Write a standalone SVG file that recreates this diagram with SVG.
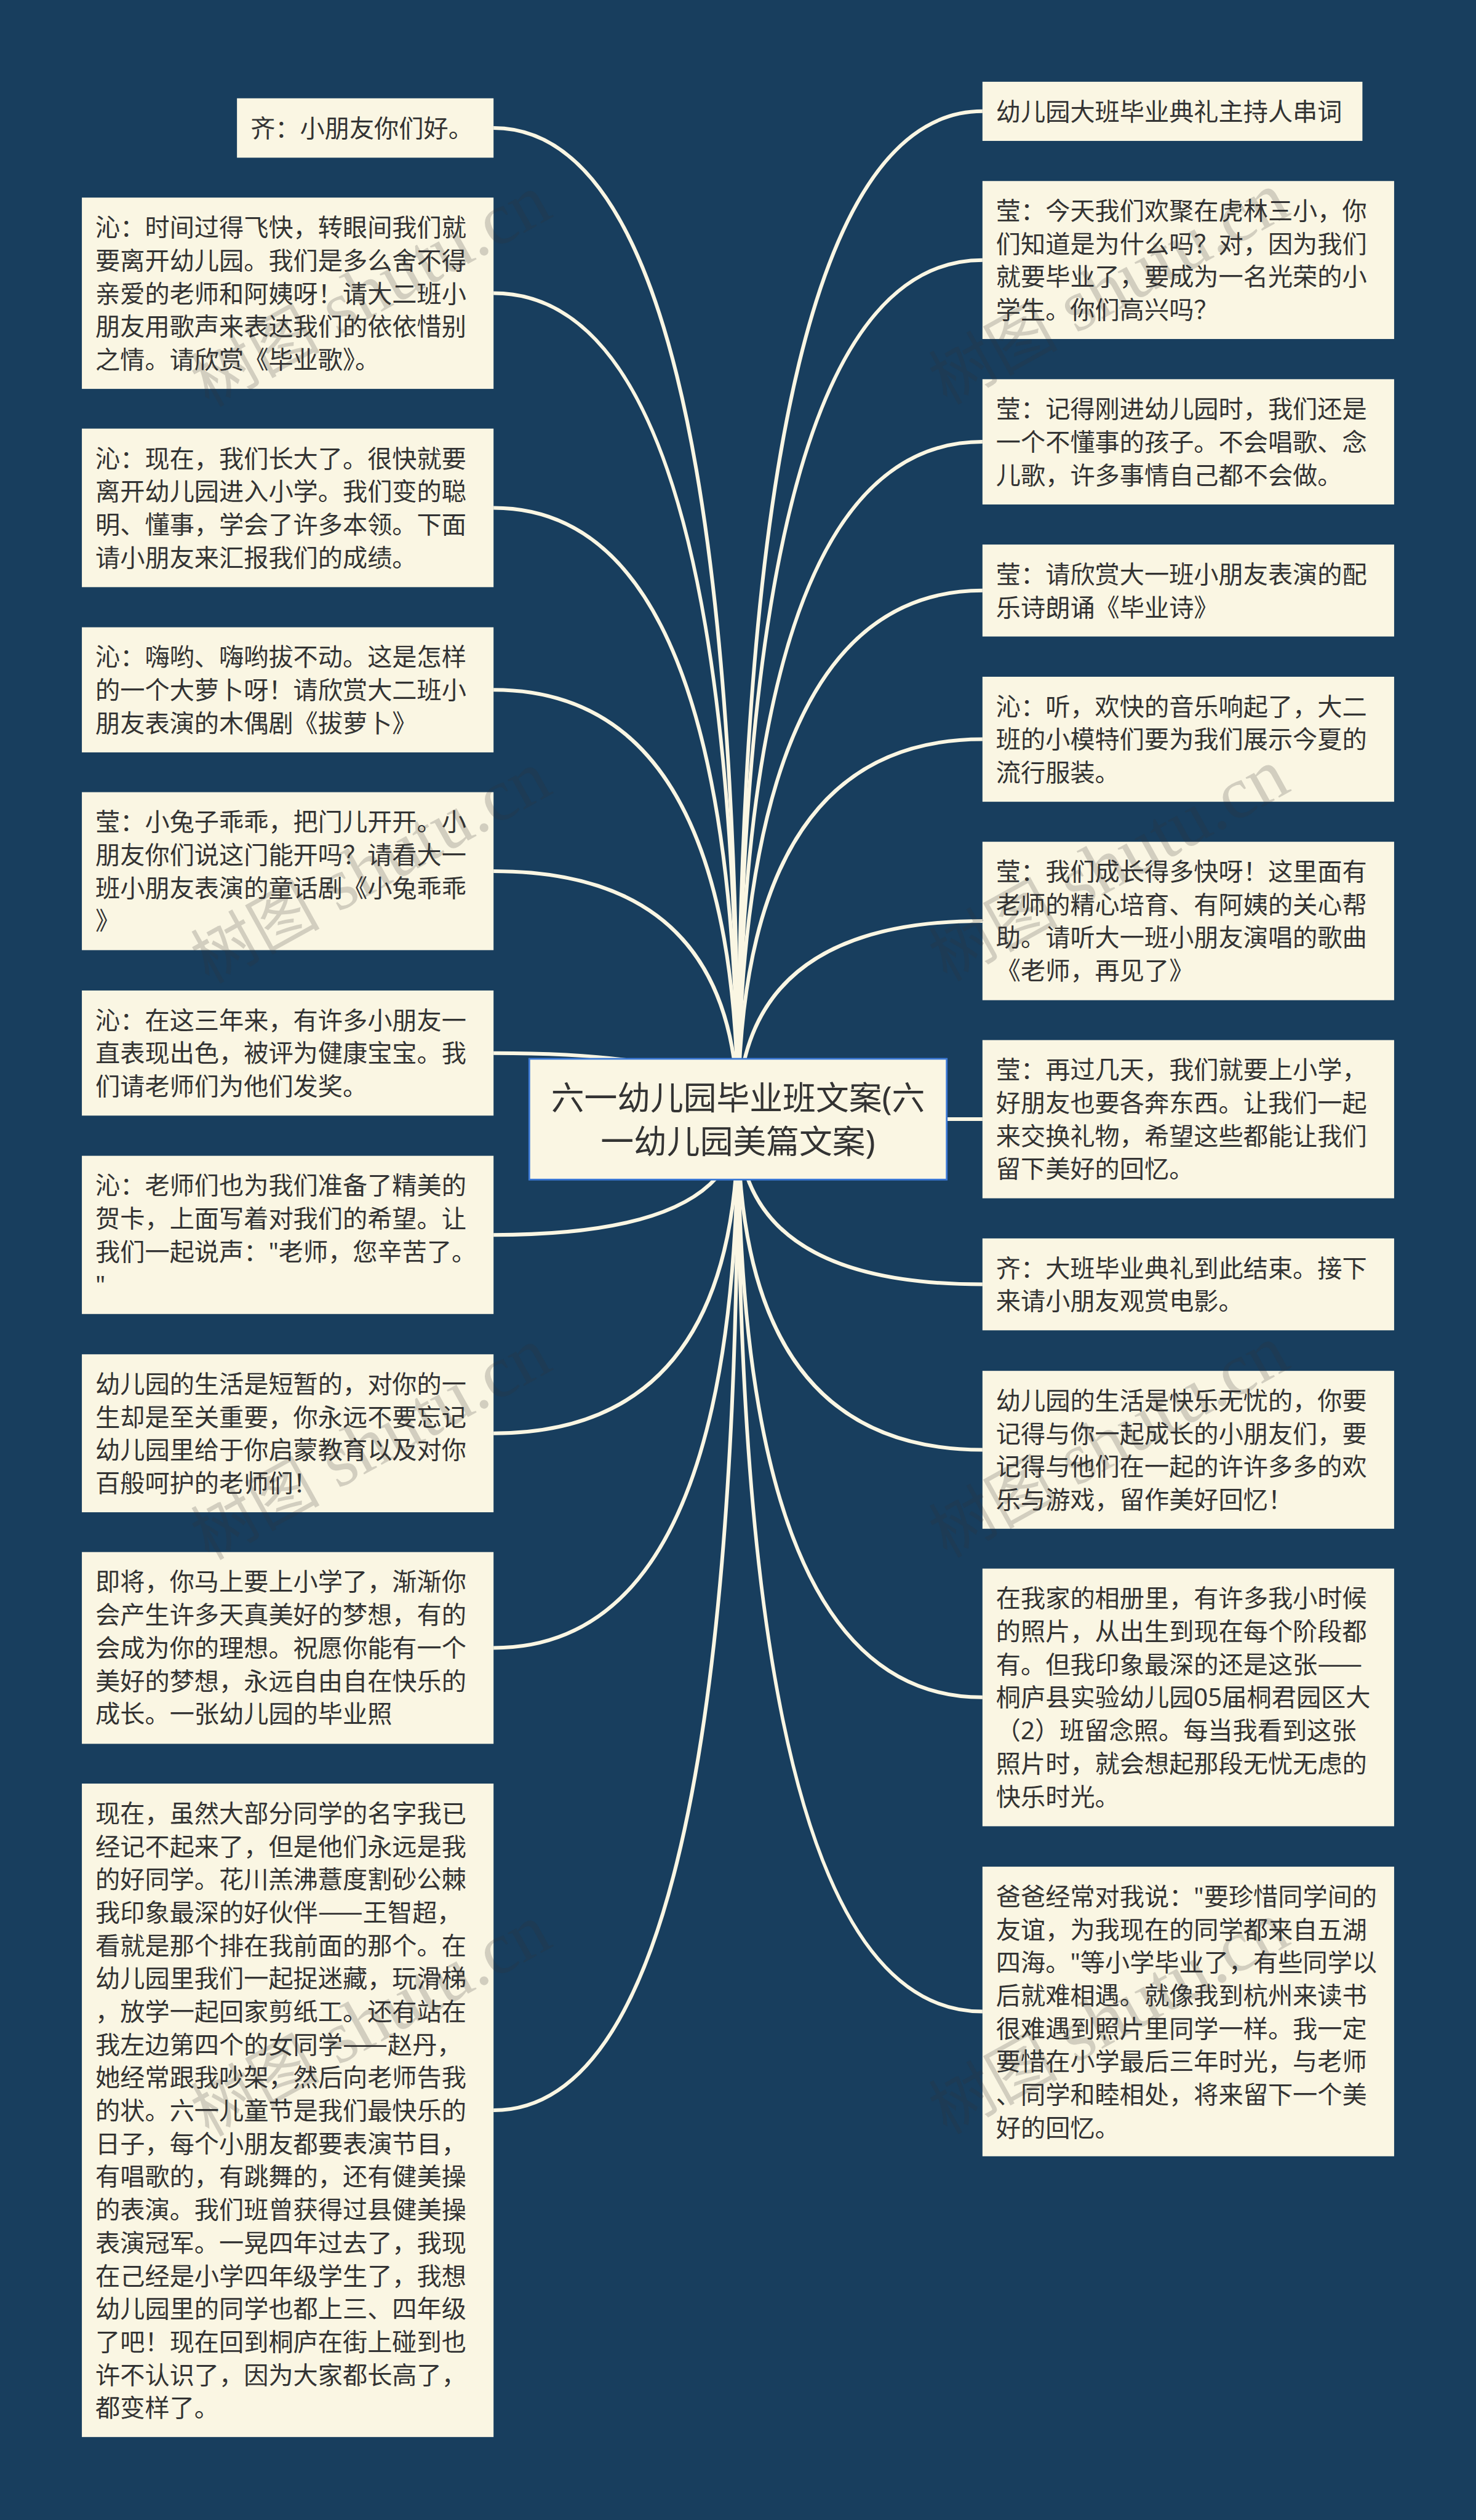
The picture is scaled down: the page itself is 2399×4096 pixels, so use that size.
<svg xmlns="http://www.w3.org/2000/svg" width="2399" height="4096" viewBox="0 0 2399 4096">
<style>
.b{fill:#faf6e3}
.t{font-family:"Noto Sans","Noto Sans CJK SC",sans-serif;font-size:42.9px;fill:#333}
.d{font-family:"Noto Sans CJK SC",sans-serif;font-size:46.5px}
.c{fill:none;stroke:#faf6e3;stroke-width:6.4}
.w{font-family:"Liberation Serif","Noto Sans CJK SC",serif;font-size:128px;fill:#333;fill-opacity:.2}
.w .z{font-family:"Noto Sans CJK SC",serif;font-size:112px}
</style>
<rect width="2399" height="4096" fill="#183e5e"/>
<g transform="scale(0.93711)">
<g id="connectors">
<path class="c" d="M1280 1941Q1280 222 856 222"/>
<path class="c" d="M1280 1941Q1280 508.6 856 508.6"/>
<path class="c" d="M1280 1941Q1280 881 856 881"/>
<path class="c" d="M1280 1941Q1280 1196.5 856 1196.5"/>
<path class="c" d="M1280 1941Q1280 1511 856 1511"/>
<path class="c" d="M1280 1941Q1280 1826.5 856 1826.5"/>
<path class="c" d="M1280 1941Q1280 2141.9 856 2141.9"/>
<path class="c" d="M1280 1941Q1280 2486 856 2486"/>
<path class="c" d="M1280 1941Q1280 2858.3 856 2858.3"/>
<path class="c" d="M1280 1941Q1280 3660.3 856 3660.3"/>
<path class="c" d="M1280 1941Q1280 193 1704 193"/>
<path class="c" d="M1280 1941Q1280 451 1704 451"/>
<path class="c" d="M1280 1941Q1280 766.3 1704 766.3"/>
<path class="c" d="M1280 1941Q1280 1024.2 1704 1024.2"/>
<path class="c" d="M1280 1941Q1280 1282.2 1704 1282.2"/>
<path class="c" d="M1280 1941Q1280 1597.4 1704 1597.4"/>
<path class="c" d="M1280 1941L1704 1941"/>
<path class="c" d="M1280 1941Q1280 2227.7 1704 2227.7"/>
<path class="c" d="M1280 1941Q1280 2514.6 1704 2514.6"/>
<path class="c" d="M1280 1941Q1280 2944 1704 2944"/>
<path class="c" d="M1280 1941Q1280 3489 1704 3489"/>
</g>
<g id="center"><rect x="918" y="1836.5" width="724" height="209.5" fill="#faf6e3" stroke="#3a78d6" stroke-width="3"/>
<text class="t" style="font-size:57.4px" text-anchor="middle"><tspan x="1280" y="1925">六一幼儿园毕业班文案(六</tspan><tspan x="1280" y="2001">一幼儿园美篇文案)</tspan></text></g>
<g id="L1"><rect class="b" x="411" y="170.5" width="445" height="103"/><text class="t" y="238"><tspan x="434.5">齐：小朋友你们好。</tspan></text></g>
<g id="L2"><rect class="b" x="142" y="342.7" width="714" height="331.8"/><text class="t" y="410"><tspan x="165.5">沁：时间过得飞快，转眼间我们就</tspan><tspan x="165.5" dy="57.3">要离开幼儿园。我们是多么舍不得</tspan><tspan x="165.5" dy="57.3">亲爱的老师和阿姨呀！请大二班小</tspan><tspan x="165.5" dy="57.3">朋友用歌声来表达我们的依依惜别</tspan><tspan x="165.5" dy="57.3">之情。请欣赏《毕业歌》。</tspan></text></g>
<g id="L3"><rect class="b" x="142" y="743.4" width="714" height="275"/><text class="t" y="810.6"><tspan x="165.5">沁：现在，我们长大了。很快就要</tspan><tspan x="165.5" dy="57.3">离开幼儿园进入小学。我们变的聪</tspan><tspan x="165.5" dy="57.3">明、懂事，学会了许多本领。下面</tspan><tspan x="165.5" dy="57.3">请小朋友来汇报我们的成绩。</tspan></text></g>
<g id="L4"><rect class="b" x="142" y="1088" width="714" height="217"/><text class="t" y="1155"><tspan x="165.5">沁：嗨哟、嗨哟拔不动。这是怎样</tspan><tspan x="165.5" dy="57.3">的一个大萝卜呀！请欣赏大二班小</tspan><tspan x="165.5" dy="57.3">朋友表演的木偶剧《拔萝卜》</tspan></text></g>
<g id="L5"><rect class="b" x="142" y="1374" width="714" height="274"/><text class="t" y="1441"><tspan x="165.5">莹：小兔子乖乖，把门儿开开。小</tspan><tspan x="165.5" dy="57.3">朋友你们说这门能开吗？请看大一</tspan><tspan x="165.5" dy="57.3">班小朋友表演的童话剧《小兔乖乖</tspan><tspan x="165.5" dy="57.3">》</tspan></text></g>
<g id="L6"><rect class="b" x="142" y="1718" width="714" height="217"/><text class="t" y="1785"><tspan x="165.5">沁：在这三年来，有许多小朋友一</tspan><tspan x="165.5" dy="57.3">直表现出色，被评为健康宝宝。我</tspan><tspan x="165.5" dy="57.3">们请老师们为他们发奖。</tspan></text></g>
<g id="L7"><rect class="b" x="142" y="2004.7" width="714" height="274.4"/><text class="t" y="2071.7"><tspan x="165.5">沁：老师们也为我们准备了精美的</tspan><tspan x="165.5" dy="57.3">贺卡，上面写着对我们的希望。让</tspan><tspan x="165.5" dy="57.3">我们一起说声："老师，您辛苦了。</tspan><tspan x="165.5" dy="57.3">"</tspan></text></g>
<g id="L8"><rect class="b" x="142" y="2349" width="714" height="274"/><text class="t" y="2416"><tspan x="165.5">幼儿园的生活是短暂的，对你的一</tspan><tspan x="165.5" dy="57.3">生却是至关重要，你永远不要忘记</tspan><tspan x="165.5" dy="57.3">幼儿园里给于你启蒙教育以及对你</tspan><tspan x="165.5" dy="57.3">百般呵护的老师们！</tspan></text></g>
<g id="L9"><rect class="b" x="142" y="2692" width="714" height="332.6"/><text class="t" y="2759"><tspan x="165.5">即将，你马上要上小学了，渐渐你</tspan><tspan x="165.5" dy="57.3">会产生许多天真美好的梦想，有的</tspan><tspan x="165.5" dy="57.3">会成为你的理想。祝愿你能有一个</tspan><tspan x="165.5" dy="57.3">美好的梦想，永远自由自在快乐的</tspan><tspan x="165.5" dy="57.3">成长。一张幼儿园的毕业照</tspan></text></g>
<g id="L10"><rect class="b" x="142" y="3093.6" width="714" height="1133.4"/><text class="t" y="3160.6"><tspan x="165.5">现在，虽然大部分同学的名字我已</tspan><tspan x="165.5" dy="57.3">经记不起来了，但是他们永远是我</tspan><tspan x="165.5" dy="57.3">的好同学。花川羔沸薏度割砂公棘</tspan><tspan x="165.5" dy="57.3">我印象最深的好伙伴<tspan class="d">——</tspan>王智超，</tspan><tspan x="165.5" dy="57.3">看就是那个排在我前面的那个。在</tspan><tspan x="165.5" dy="57.3">幼儿园里我们一起捉迷藏，玩滑梯</tspan><tspan x="165.5" dy="57.3">，放学一起回家剪纸工。还有站在</tspan><tspan x="165.5" dy="57.3">我左边第四个的女同学<tspan class="d">——</tspan>赵丹，</tspan><tspan x="165.5" dy="57.3">她经常跟我吵架，然后向老师告我</tspan><tspan x="165.5" dy="57.3">的状。六一儿童节是我们最快乐的</tspan><tspan x="165.5" dy="57.3">日子，每个小朋友都要表演节目，</tspan><tspan x="165.5" dy="57.3">有唱歌的，有跳舞的，还有健美操</tspan><tspan x="165.5" dy="57.3">的表演。我们班曾获得过县健美操</tspan><tspan x="165.5" dy="57.3">表演冠军。一晃四年过去了，我现</tspan><tspan x="165.5" dy="57.3">在己经是小学四年级学生了，我想</tspan><tspan x="165.5" dy="57.3">幼儿园里的同学也都上三、四年级</tspan><tspan x="165.5" dy="57.3">了吧！现在回到桐庐在街上碰到也</tspan><tspan x="165.5" dy="57.3">许不认识了，因为大家都长高了，</tspan><tspan x="165.5" dy="57.3">都变样了。</tspan></text></g>
<g id="R1"><rect class="b" x="1704" y="141.8" width="659" height="102.6"/><text class="t" y="209"><tspan x="1727.5">幼儿园大班毕业典礼主持人串词</tspan></text></g>
<g id="R2"><rect class="b" x="1704" y="314" width="714" height="274"/><text class="t" y="381"><tspan x="1727.5">莹：今天我们欢聚在虎林三小，你</tspan><tspan x="1727.5" dy="57.3">们知道是为什么吗？对，因为我们</tspan><tspan x="1727.5" dy="57.3">就要毕业了，要成为一名光荣的小</tspan><tspan x="1727.5" dy="57.3">学生。你们高兴吗？</tspan></text></g>
<g id="R3"><rect class="b" x="1704" y="657.7" width="714" height="217.3"/><text class="t" y="724.7"><tspan x="1727.5">莹：记得刚进幼儿园时，我们还是</tspan><tspan x="1727.5" dy="57.3">一个不懂事的孩子。不会唱歌、念</tspan><tspan x="1727.5" dy="57.3">儿歌，许多事情自己都不会做。</tspan></text></g>
<g id="R4"><rect class="b" x="1704" y="944.5" width="714" height="159.5"/><text class="t" y="1011.5"><tspan x="1727.5">莹：请欣赏大一班小朋友表演的配</tspan><tspan x="1727.5" dy="57.3">乐诗朗诵《毕业诗》</tspan></text></g>
<g id="R5"><rect class="b" x="1704" y="1173.8" width="714" height="216.8"/><text class="t" y="1240.8"><tspan x="1727.5">沁：听，欢快的音乐响起了，大二</tspan><tspan x="1727.5" dy="57.3">班的小模特们要为我们展示今夏的</tspan><tspan x="1727.5" dy="57.3">流行服装。</tspan></text></g>
<g id="R6"><rect class="b" x="1704" y="1460" width="714" height="274.8"/><text class="t" y="1527"><tspan x="1727.5">莹：我们成长得多快呀！这里面有</tspan><tspan x="1727.5" dy="57.3">老师的精心培育、有阿姨的关心帮</tspan><tspan x="1727.5" dy="57.3">助。请听大一班小朋友演唱的歌曲</tspan><tspan x="1727.5" dy="57.3">《老师，再见了》</tspan></text></g>
<g id="R7"><rect class="b" x="1704" y="1804" width="714" height="274.4"/><text class="t" y="1871"><tspan x="1727.5">莹：再过几天，我们就要上小学，</tspan><tspan x="1727.5" dy="57.3">好朋友也要各奔东西。让我们一起</tspan><tspan x="1727.5" dy="57.3">来交换礼物，希望这些都能让我们</tspan><tspan x="1727.5" dy="57.3">留下美好的回忆。</tspan></text></g>
<g id="R8"><rect class="b" x="1704" y="2148" width="714" height="159.4"/><text class="t" y="2215"><tspan x="1727.5">齐：大班毕业典礼到此结束。接下</tspan><tspan x="1727.5" dy="57.3">来请小朋友观赏电影。</tspan></text></g>
<g id="R9"><rect class="b" x="1704" y="2377.7" width="714" height="273.9"/><text class="t" y="2444.7"><tspan x="1727.5">幼儿园的生活是快乐无忧的，你要</tspan><tspan x="1727.5" dy="57.3">记得与你一起成长的小朋友们，要</tspan><tspan x="1727.5" dy="57.3">记得与他们在一起的许许多多的欢</tspan><tspan x="1727.5" dy="57.3">乐与游戏，留作美好回忆！</tspan></text></g>
<g id="R10"><rect class="b" x="1704" y="2720.7" width="714" height="446.9"/><text class="t" y="2787.7"><tspan x="1727.5">在我家的相册里，有许多我小时候</tspan><tspan x="1727.5" dy="57.3">的照片，从出生到现在每个阶段都</tspan><tspan x="1727.5" dy="57.3">有。但我印象最深的还是这张<tspan class="d">——</tspan></tspan><tspan x="1727.5" dy="57.3">桐庐县实验幼儿园05届桐君园区大</tspan><tspan x="1727.5" dy="57.3">（2）班留念照。每当我看到这张</tspan><tspan x="1727.5" dy="57.3">照片时，就会想起那段无忧无虑的</tspan><tspan x="1727.5" dy="57.3">快乐时光。</tspan></text></g>
<g id="R11"><rect class="b" x="1704" y="3237.7" width="714" height="502.3"/><text class="t" y="3304.7"><tspan x="1727.5">爸爸经常对我说："要珍惜同学间的</tspan><tspan x="1727.5" dy="57.3">友谊，为我现在的同学都来自五湖</tspan><tspan x="1727.5" dy="57.3">四海。"等小学毕业了，有些同学以</tspan><tspan x="1727.5" dy="57.3">后就难相遇。就像我到杭州来读书</tspan><tspan x="1727.5" dy="57.3">很难遇到照片里同学一样。我一定</tspan><tspan x="1727.5" dy="57.3">要惜在小学最后三年时光，与老师</tspan><tspan x="1727.5" dy="57.3">、同学和睦相处，将来留下一个美</tspan><tspan x="1727.5" dy="57.3">好的回忆。</tspan></text></g>
<g id="watermarks">
<text class="w" transform="translate(362 707) rotate(-29)"><tspan class="z">树图</tspan> shutu.cn</text>
<text class="w" transform="translate(362 1707) rotate(-29)"><tspan class="z">树图</tspan> shutu.cn</text>
<text class="w" transform="translate(362 2707) rotate(-29)"><tspan class="z">树图</tspan> shutu.cn</text>
<text class="w" transform="translate(362 3707) rotate(-29)"><tspan class="z">树图</tspan> shutu.cn</text>
<text class="w" transform="translate(1642 703) rotate(-29)"><tspan class="z">树图</tspan> shutu.cn</text>
<text class="w" transform="translate(1642 1703) rotate(-29)"><tspan class="z">树图</tspan> shutu.cn</text>
<text class="w" transform="translate(1642 2703) rotate(-29)"><tspan class="z">树图</tspan> shutu.cn</text>
<text class="w" transform="translate(1642 3703) rotate(-29)"><tspan class="z">树图</tspan> shutu.cn</text>
</g>
</g>
</svg>
